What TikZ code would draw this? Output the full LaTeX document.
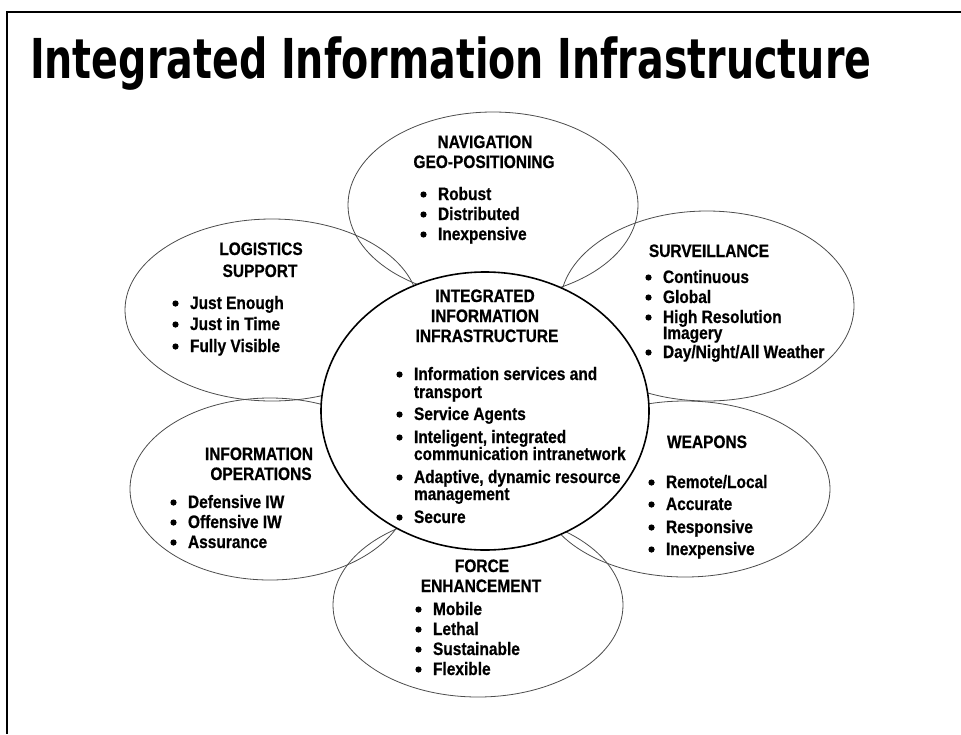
\documentclass[tikz,border=0pt]{standalone}
\usepackage{fontspec}
\usetikzlibrary{shapes.geometric}
\newfontfamily\nbf[FakeStretch=0.86,FakeBold=0.6]{Liberation Sans Bold}
\newfontfamily\ttlfont[FakeStretch=0.72]{DejaVu Sans Bold}
\newcommand\bulitem[4]{\fill (#2-14.5,#3-5.5) circle (3.1pt);
  \node[itm] (#1) at (#2,#3) {#4};}
\newcommand\contline[4]{\node[itm] (#1) at (#2,#3) {#4};}
\begin{document}
\begin{tikzpicture}[x=1pt,y=-1pt,
  every node/.style={inner sep=0pt, outer sep=0pt},
  lbl/.style={font=\nbf\fontsize{18}{20}\selectfont, anchor=base},
  itm/.style={font=\nbf\fontsize{18}{20}\selectfont, anchor=base west},
  petal/.style={ellipse, draw=black!70, line width=0.8pt},
  core/.style={ellipse, draw=black, line width=1.6pt, fill=white}]
\useasboundingbox (0,0) rectangle (961,734);
\draw[line width=2pt] (961,12) -- (7,12) -- (7,734);
\node[anchor=base west, font=\ttlfont\fontsize{55}{60}\selectfont] (title) at (30,78) {Integrated Information Infrastructure};

% petals
\node[petal, minimum width=290pt, minimum height=186pt] (nav) at (493,205) {};
\node[petal, minimum width=294pt, minimum height=182pt] (log) at (272,310) {};
\node[petal, minimum width=294pt, minimum height=190pt] (sur) at (707,306) {};
\node[petal, minimum width=280pt, minimum height=182pt] (iop) at (270,489) {};
\node[petal, minimum width=290pt, minimum height=176pt] (wea) at (685,489) {};
\node[petal, minimum width=290pt, minimum height=184pt] (frc) at (478,605) {};
% core
\node[core, minimum width=328pt, minimum height=278pt] (core) at (485,411) {};

% navigation
\node[lbl] (navh1) at (485,148) {NAVIGATION};
\node[lbl] (navh2) at (484,168) {GEO-POSITIONING};
\bulitem{nav1}{438}{200}{Robust}
\bulitem{nav2}{438}{220}{Distributed}
\bulitem{nav3}{438}{240}{Inexpensive}

% logistics
\node[lbl] (logh1) at (261,255) {LOGISTICS};
\node[lbl] (logh2) at (260,277) {SUPPORT};
\bulitem{log1}{190}{309}{Just Enough}
\bulitem{log2}{190}{330}{Just in Time}
\bulitem{log3}{190}{352}{Fully Visible}

% surveillance
\node[lbl] (surh1) at (709,257) {SURVEILLANCE};
\bulitem{sur1}{663}{283}{Continuous}
\bulitem{sur2}{663}{303}{Global}
\bulitem{sur3}{663}{323}{High Resolution}
\contline{sur3b}{663}{339}{Imagery}
\bulitem{sur4}{663}{358}{Day/Night/All Weather}

% core text
\node[lbl] (coreh1) at (485,302) {INTEGRATED};
\node[lbl] (coreh2) at (485,322) {INFORMATION};
\node[lbl] (coreh3) at (487,342) {INFRASTRUCTURE};
\bulitem{core1}{414}{380}{Information services and}
\contline{core1b}{414}{398}{transport}
\bulitem{core2}{414}{420}{Service Agents}
\bulitem{core3}{414}{443}{Inteligent, integrated}
\contline{core3b}{414}{460}{communication intranetwork}
\bulitem{core4}{414}{483}{Adaptive, dynamic resource}
\contline{core4b}{414}{500}{management}
\bulitem{core5}{414}{523}{Secure}

% information operations
\node[lbl] (ioph1) at (259,460) {INFORMATION};
\node[lbl] (ioph2) at (261,480) {OPERATIONS};
\bulitem{iop1}{188}{508}{Defensive IW}
\bulitem{iop2}{188}{528}{Offensive IW}
\bulitem{iop3}{188}{548}{Assurance}

% weapons
\node[lbl] (weah1) at (707,448) {WEAPONS};
\bulitem{wea1}{666}{488}{Remote/Local}
\bulitem{wea2}{666}{510}{Accurate}
\bulitem{wea3}{666}{533}{Responsive}
\bulitem{wea4}{666}{555}{Inexpensive}

% force enhancement
\node[lbl] (frch1) at (482,572) {FORCE};
\node[lbl] (frch2) at (481,592) {ENHANCEMENT};
\bulitem{frc1}{433}{615}{Mobile}
\bulitem{frc2}{433}{635}{Lethal}
\bulitem{frc3}{433}{655}{Sustainable}
\bulitem{frc4}{433}{675}{Flexible}
\end{tikzpicture}
\end{document}
